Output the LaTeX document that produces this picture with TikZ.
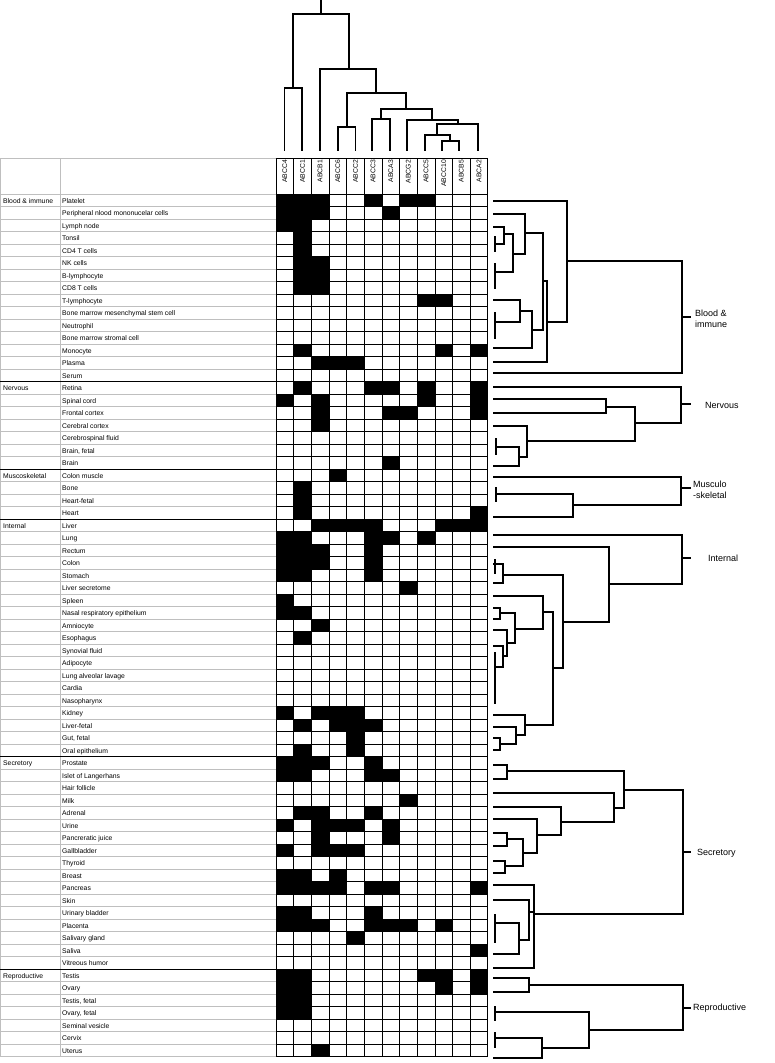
\documentclass[tikz,border=0pt]{standalone}
\usepackage{fontspec}
\setmainfont{Liberation Sans}
\begin{document}
\begin{tikzpicture}[x=1pt,y=-1pt,
  dend/.style={line width=1.7pt,line cap=rect},
  tiny/.style={font=\fontsize{6.8}{7}\selectfont,inner sep=0pt},
  grp/.style={font=\fontsize{9}{11}\selectfont,inner sep=0pt,anchor=west,align=left},
  gridl/.style={line width=0.7pt,black},
  faint/.style={line width=0.5pt,black!25}]
\useasboundingbox (0,0) rectangle (775,1063);
\fill[white] (0,0) rectangle (775,1063);
\def\XO{276}\def\CW{17.65}
% black cells
\foreach \r/\cs in {1/{1,2,3,6,8,9},2/{1,2,3,7},3/{1,2},4/{2},5/{2},6/{2,3},7/{2,3},8/{2,3},9/{9,10},13/{2,10,12},14/{3,4,5},
 16/{2,6,7,9,12},17/{1,3,9,12},18/{3,7,8,12},19/{3},22/{7},23/{4},24/{2},25/{2},26/{2,12},
 27/{3,4,5,6,10,11,12},28/{1,2,6,7,9},29/{1,2,3,6},30/{1,2,3,6},31/{1,2,6},32/{8},33/{1},34/{1,2},35/{3},36/{2},
 42/{1,3,4,5},43/{2,4,5,6},44/{5},45/{2,5},46/{1,2,3,6},47/{1,2,6,7},49/{8},50/{2,3,6},51/{1,3,4,5,7},52/{3,7},53/{1,3,4,5},
 55/{1,2,4},56/{1,2,3,4,6,7,12},58/{1,2,6},59/{1,2,3,6,7,8,10},60/{5},61/{12},63/{1,2,9,10,12},64/{1,2,10,12},65/{1,2},66/{1,2},69/{3}}
 { \foreach \c in \cs { \fill[black] ({\XO+(\c-1)*\CW},{194+(\r-1)*12.5}) rectangle +(\CW,12.5); } }
% left table faint lines
\foreach \k in {0,...,69} \draw[faint] (0,{194+\k*12.5}) -- (\XO,{194+\k*12.5});
\draw[faint] (0,158) -- (\XO,158);
\draw[faint] (0.5,158) -- (0.5,1056.5);
\draw[faint] (60,158) -- (60,1056.5);
% heat grid
\foreach \k in {0,...,69} \draw[gridl] (\XO,{194+\k*12.5}) -- ({\XO+12*\CW},{194+\k*12.5});
\draw[gridl] (\XO,158) -- ({\XO+12*\CW},158);
\foreach \k in {0,...,12} \draw[gridl] ({\XO+\k*\CW},158) -- ({\XO+\k*\CW},1056.5);
\foreach \k in {15,22,26,45,62} \draw[gridl] (0,{194+\k*12.5}) -- ({\XO+12*\CW},{194+\k*12.5});
% column labels
\foreach \n [count=\j] in {ABCC4,ABCC1,ABCB1,ABCC6,ABCC2,ABCC3,ABCA3,ABCG2,ABCC5,ABCC10,ABCB5,ABCA2}
  \node[tiny,rotate=90,anchor=east] (col\j) at ({\XO+(\j-0.5)*\CW},160) {\n};
% tissue labels
\foreach \t [count=\i] in {Platelet,Peripheral nlood mononucelar cells,Lymph node,Tonsil,CD4 T cells,NK cells,B-lymphocyte,CD8 T cells,T-lymphocyte,Bone marrow mesenchymal stem cell,Neutrophil,Bone marrow stromal cell,Monocyte,Plasma,Serum,
 Retina,Spinal cord,Frontal cortex,Cerebral cortex,Cerebrospinal fluid,{Brain, fetal},Brain,
 Colon muscle,Bone,Heart-fetal,Heart,
 Liver,Lung,Rectum,Colon,Stomach,Liver secretome,Spleen,Nasal respiratory epithelium,Amniocyte,Esophagus,Synovial fluid,Adipocyte,Lung alveolar lavage,Cardia,Nasopharynx,Kidney,Liver-fetal,{Gut, fetal},Oral epithelium,
 Prostate,Islet of Langerhans,Hair follicle,Milk,Adrenal,Urine,Pancreratic juice,Gallbladder,Thyroid,Breast,Pancreas,Skin,Urinary bladder,Placenta,Salivary gland,Saliva,Vitreous humor,
 Testis,Ovary,{Testis, fetal},{Ovary, fetal},Seminal vesicle,Cervix,Uterus}
  \node[tiny,anchor=base west] (t\i) at (62,{194+\i*12.5-3.2}) {\t};
\foreach \g/\r in {Blood \& immune/1,Nervous/16,Muscoskeletal/23,Internal/27,Secretory/46,Reproductive/63}
  \node[tiny,anchor=base west] (g\r) at (3,{194+\r*12.5-3.2}) {\g};
% top dendrogram
\draw[dend] (284.5,150)--(284.5,88)--(302.2,88)--(302.2,150);
\draw[dend] (293.3,88)--(293.3,14)--(349,14)--(349,69.3);
\draw[dend] (320.7,0)--(320.7,14);
\draw[dend] (320,150)--(320,69.3)--(376.3,69.3)--(376.3,92.7);
\draw[dend] (347,127.3)--(347,92.7)--(406,92.7)--(406,109);
\draw[dend] (337.7,150)--(337.7,127.3)--(355.4,127.3)--(355.4,150);
\draw[dend] (381,119)--(381,109)--(431.7,109)--(431.7,120);
\draw[dend] (372.3,150)--(372.3,119)--(390,119)--(390,150);
\draw[dend] (406.7,150)--(406.7,120)--(458.3,120)--(458.3,124);
\draw[dend] (437,135)--(437,124)--(478.3,124)--(478.3,150);
\draw[dend] (425,150)--(425,135)--(450.3,135)--(450.3,140.7);
\draw[dend] (441.7,150)--(441.7,140.7)--(459.3,140.7)--(459.3,150);
% right dendrogram: blood
\draw[dend] (494,200.7)--(566.7,200.7)--(566.7,321.7)--(547.3,321.7);
\draw[dend] (566.7,261)--(681.7,261)--(681.7,373.3)--(494,373.3);
\draw[dend] (681.7,316.7)--(690,316.7);
\draw[dend] (543.3,281)--(547.3,281)--(547.3,361.7)--(494,361.7);
\draw[dend] (525,233.3)--(543.3,233.3)--(543.3,330)--(531.7,330);
\draw[dend] (494,214.3)--(525,214.3)--(525,254)--(513.3,254);
\draw[dend] (504,234.3)--(513.3,234.3)--(513.3,272.3)--(495,272.3);
\draw[dend] (494,226.7)--(504,226.7)--(504,244.3)--(495,244.3);
\draw[dend] (495,236.7)--(495,250.7);
\draw[dend] (495,264)--(495,288.3);
\draw[dend] (520,310.7)--(531.7,310.7)--(531.7,348.3)--(494,348.3);
\draw[dend] (494,300)--(520,300)--(520,321.7)--(495,321.7);
\draw[dend] (495,313.3)--(495,338.3);
% nervous
\draw[dend] (494,387.3)--(680.7,387.3)--(680.7,423.3)--(635,423.3);
\draw[dend] (680.7,404.3)--(690,404.3);
\draw[dend] (606,406.7)--(635,406.7)--(635,441)--(526.7,441);
\draw[dend] (494,399.3)--(606,399.3)--(606,412.7)--(494,412.7);
\draw[dend] (494,426)--(526.7,426)--(526.7,456.7)--(519.3,456.7);
\draw[dend] (496,446.7)--(519.3,446.7)--(519.3,466)--(494,466);
\draw[dend] (496,439.3)--(496,454.3);
% musculo
\draw[dend] (494,476.7)--(680.7,476.7)--(680.7,505)--(573.3,505);
\draw[dend] (680.7,488.3)--(690,488.3);
\draw[dend] (496,494.3)--(573.3,494.3)--(573.3,516.7)--(494,516.7);
\draw[dend] (496,487.7)--(496,501);
% internal
\draw[dend] (494,535)--(682,535)--(682,584.3)--(609,584.3);
\draw[dend] (682,558.3)--(690,558.3);
\draw[dend] (494,546.7)--(609,546.7)--(609,621.7)--(563.3,621.7);
\draw[dend] (502.7,575)--(563.3,575)--(563.3,668.3)--(553.3,668.3);
\draw[dend] (494,564.3)--(502.7,564.3)--(502.7,583.3)--(494,583.3);
\draw[dend] (495,560)--(495,573.3);
\draw[dend] (543.3,611.7)--(553.3,611.7)--(553.3,725)--(524.7,725);
\draw[dend] (494,596)--(543.3,596)--(543.3,629)--(514.7,629);
\draw[dend] (500,613.3)--(514.7,613.3)--(514.7,642.7)--(506.7,642.7);
\draw[dend] (494,608.3)--(500,608.3)--(500,619)--(494,619);
\draw[dend] (494,630)--(506.7,630)--(506.7,656)--(503,656);
\draw[dend] (494,646)--(503,646)--(503,666.7)--(495,666.7);
\draw[dend] (495,653.3)--(495,703.3);
\draw[dend] (494,715)--(524.7,715)--(524.7,735)--(516,735);
\draw[dend] (494,727.3)--(516,727.3)--(516,744.3)--(500,744.3);
\draw[dend] (494,738.3)--(500,738.3)--(500,750)--(494,750);
% secretory
\draw[dend] (494,765)--(507.3,765)--(507.3,779)--(494,779);
\draw[dend] (507.3,771)--(624,771)--(624,807.7)--(614,807.7);
\draw[dend] (624,790)--(682.7,790)--(682.7,914.3)--(534.3,914.3);
\draw[dend] (682.7,852.3)--(690,852.3);
\draw[dend] (494,792.7)--(614,792.7)--(614,821.7)--(560.7,821.7);
\draw[dend] (494,806.7)--(560.7,806.7)--(560.7,835)--(536.7,835);
\draw[dend] (494,819.3)--(536.7,819.3)--(536.7,853.3)--(523.3,853.3);
\draw[dend] (507.3,839.3)--(523.3,839.3)--(523.3,866)--(505,866);
\draw[dend] (494,832.7)--(507.3,832.7)--(507.3,846)--(494,846);
\draw[dend] (494,861)--(505,861)--(505,872.7)--(494,872.7);
\draw[dend] (494,885)--(534.3,885)--(534.3,967.7)--(494,967.7);
\draw[dend] (494,900)--(529,900)--(529,940)--(518.7,940);
\draw[dend] (529,912)--(534.3,912);
\draw[dend] (495,923.3)--(518.7,923.3)--(518.7,954)--(494,954);
\draw[dend] (495,915)--(495,941.7);
% reproductive
\draw[dend] (494,978.3)--(529.3,978.3)--(529.3,992.3)--(494,992.3);
\draw[dend] (529.3,985)--(682.7,985)--(682.7,1030)--(589.3,1030);
\draw[dend] (682.7,1007.7)--(690,1007.7);
\draw[dend] (495,1011.7)--(589.3,1011.7)--(589.3,1048.3)--(541.7,1048.3);
\draw[dend] (495,1006.7)--(495,1020);
\draw[dend] (495,1038.3)--(541.7,1038.3)--(541.7,1057.7)--(494,1057.7);
\draw[dend] (495,1033)--(495,1046.7);
% group labels right
\node[grp] (lb) at (695,319) {Blood \&\\immune};
\node[grp] (ln) at (705,405) {Nervous};
\node[grp] (lm) at (693,490) {Musculo\\-skeletal};
\node[grp] (li) at (708,558) {Internal};
\node[grp] (ls) at (697,853) {Secretory};
\node[grp] (lr) at (693,1008) {Reproductive};
\end{tikzpicture}
\end{document}
